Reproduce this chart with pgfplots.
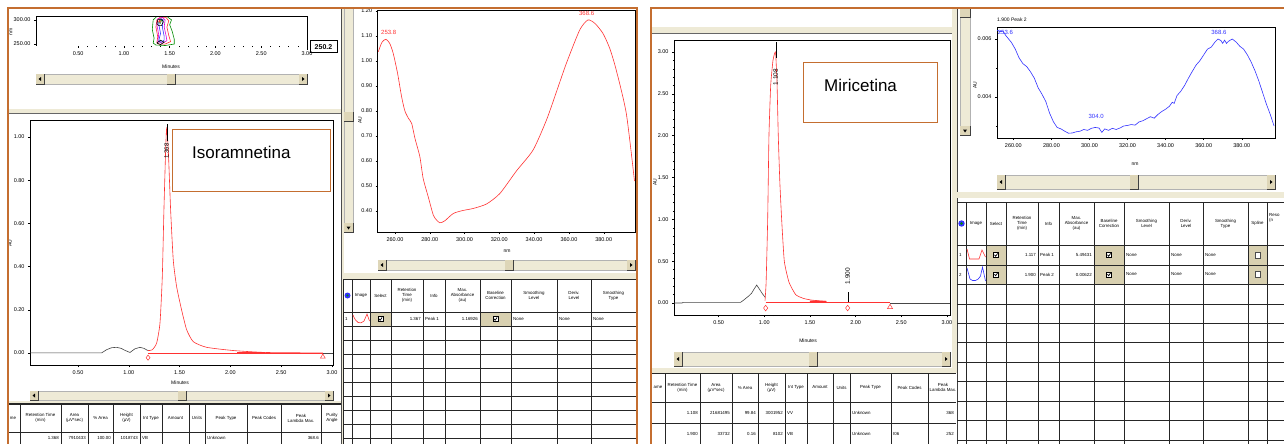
\documentclass[border=0pt]{standalone}
\usepackage{pgfplots}
\pgfplotsset{compat=1.18}
\usepackage{fontspec}
\setmainfont{Liberation Sans}
\definecolor{brd}{RGB}{196,110,48}
\definecolor{trk}{RGB}{238,234,214}
\definecolor{thm}{RGB}{222,214,184}
\definecolor{chk}{RGB}{216,208,176}
\definecolor{pk}{RGB}{255,50,50}
\definecolor{bl}{RGB}{50,50,255}
\definecolor{cgreen}{RGB}{0,140,0}
\definecolor{cmag}{RGB}{220,0,220}
\definecolor{ln}{RGB}{70,70,70}
\newcommand{\tfont}{\fontsize{5.5}{6}\selectfont}
\newcommand{\cfont}{\fontsize{4.4}{5}\selectfont}
\pgfplotsset{
  base/.style={scale only axis, axis line style={black,line width=0.6pt},
    tick label style={font=\tfont},
    /pgf/number format/assume math mode=true,
    /pgf/number format/fixed, /pgf/number format/fixed zerofill,
    /pgf/number format/precision=2,
    scaled x ticks=false, scaled y ticks=false,
    tick align=outside, major tick length=2pt, minor tick length=1.2pt,
    every tick/.style={black,line width=0.4pt},
    xtick pos=bottom, ytick pos=left,
    every axis plot/.append style={line width=0.6pt},
  },
}
% horizontal scrollbar: xl, xr, ytop, ybot, thumbx
\newcommand{\hscroll}[5]{%
  \fill[trk] (#1,-#3) rectangle (#2,-#4);
  \draw[black!30,line width=0.3pt] (#1,-#3) rectangle (#2,-#4);
  \fill[thm] (#1,-#3) rectangle (#1+8,-#4);
  \draw[black!75,line width=0.5pt] (#1+8,-#3) -- (#1+8,-#4) -- (#1,-#4);
  \fill (#1+2.5,-#3/2-#4/2) -- (#1+5,-#3/2-#4/2+2) -- (#1+5,-#3/2-#4/2-2) -- cycle;
  \fill[thm] (#2-8,-#3) rectangle (#2,-#4);
  \draw[black!75,line width=0.5pt] (#2,-#3) -- (#2,-#4) -- (#2-8,-#4);
  \fill (#2-2.5,-#3/2-#4/2) -- (#2-5,-#3/2-#4/2+2) -- (#2-5,-#3/2-#4/2-2) -- cycle;
  \fill[thm] (#5,-#3) rectangle (#5+8,-#4);
  \draw[black!75,line width=0.5pt] (#5+8,-#3) -- (#5+8,-#4) -- (#5,-#4);
}
% vertical scrollbar: xl, xr, ytop, ybot, thumby
\newcommand{\vscroll}[5]{%
  \fill[trk] (#1,-#3) rectangle (#2,-#4);
  \draw[black!30,line width=0.3pt] (#1,-#3) rectangle (#2,-#4);
  \fill[thm] (#1,-#4+9) rectangle (#2,-#4);
  \draw[black!75,line width=0.5pt] (#2,-#4+9) -- (#2,-#4) -- (#1,-#4);
  \fill (#1/2+#2/2,-#4+2.5) -- (#1/2+#2/2-2,-#4+5.5) -- (#1/2+#2/2+2,-#4+5.5) -- cycle;
  \fill[thm] (#1,-#5) rectangle (#2,-#5-9);
  \draw[black!75,line width=0.5pt] (#2,-#5) -- (#2,-#5-9) -- (#1,-#5-9);
}
\newcommand{\cbox}[2]{%
  \draw[black,line width=0.4pt,fill=white] (#1-2.5,-#2-2.5) rectangle (#1+2.5,-#2+2.5);
  \draw[line width=0.7pt] (#1-1.5,-#2+0.2) -- (#1-0.4,-#2-1.3) -- (#1+1.6,-#2+1.6);}
\newcommand{\ebox}[2]{%
  \draw[black!70,line width=0.4pt,fill=white] (#1-2.5,-#2-3) rectangle (#1+2.5,-#2+3);}
\tikzset{tbl/.style={draw=black!85,line width=0.8pt},
  hd/.style={font=\cfont,align=center,inner sep=0pt},
  cl/.style={font=\cfont,anchor=west,inner sep=0pt},
  cr/.style={font=\cfont,anchor=east,inner sep=0pt},
  lab/.style={font=\fontsize{5}{5}\selectfont,inner sep=0pt}}
\begin{document}
\begin{tikzpicture}[x=1pt,y=1pt]
\useasboundingbox (0,0) rectangle (1284,-444);
\clip (0,0) rectangle (1284,-444);
\fill[white] (0,0) rectangle (1284,-444);

% ================= LEFT HALF =================
\fill[trk] (8,-109) rectangle (341,-113);
\draw[black!60,line width=0.6pt] (8,-113) -- (341,-113);
\fill[trk] (8,-401) rectangle (341,-403);
\draw[black!85,line width=0.8pt] (8,-403) -- (341,-403);
\fill[trk] (341,-8) rectangle (344,-444);
\draw[black!70,line width=0.8pt] (341,-8) -- (341,-444);
\fill[trk] (344,-273) rectangle (637,-279);

% contour mini plot
\begin{axis}[base, at={(36pt,-46pt)}, anchor=south west, width=271pt, height=30pt,
  xmin=0.04, xmax=3.0, ymin=246, ymax=308,
  xtick={0.5,1,1.5,2,2.5,3}, minor x tick num=4,
  ytick={250,300}, axis line style={draw=none}]
\addplot[cgreen] coordinates {(1.32,252)(1.33,262)(1.31,280)(1.32,300)(1.36,307)(1.47,307)(1.52,300)(1.50,290)(1.53,275)(1.55,260)(1.55,250)(1.45,247)(1.35,248)(1.32,252)};
\addplot[pk] coordinates {(1.36,253)(1.37,265)(1.35,285)(1.36,300)(1.40,306)(1.46,305)(1.49,298)(1.47,285)(1.49,268)(1.51,255)(1.45,250)(1.38,250)(1.36,253)};
\addplot[cmag] coordinates {(1.37,255)(1.38,270)(1.36,290)(1.37,302)(1.42,305)(1.45,300)(1.44,285)(1.46,268)(1.47,257)(1.42,252)(1.37,255)};
\addplot[bl] coordinates {(1.38,256)(1.40,272)(1.38,292)(1.40,302)(1.43,300)(1.42,285)(1.44,266)(1.44,258)(1.41,254)(1.38,256)};
\addplot[black] coordinates {(1.36,292)(1.37,300)(1.41,302)(1.43,296)(1.41,288)(1.38,288)(1.36,292)};
\addplot[black] coordinates {(1.36,252)(1.40,258)(1.44,254)(1.40,249)(1.36,252)};
\addplot[cgreen] coordinates {(1.38,294)(1.39,300)(1.41,299)(1.40,293)(1.38,294)};
\addplot[pk,only marks,mark=*,mark size=0.8pt] coordinates {(1.39,297)};
\end{axis}
\draw[black,line width=0.7pt] (36,-46) -- (36,-16) -- (307,-16) -- (307,-50);
\node[lab,rotate=90] at (11,-32) {nm};
\node[lab] at (171,-67) {Minutes};
\draw[black,line width=1pt] (310,-41) rectangle (337,-53);
\node[font=\fontsize{7}{7}\selectfont\bfseries,inner sep=0pt] at (323.5,-47.2) {250.2};
\hscroll{36}{307}{74}{84}{167}

% left chromatogram
\begin{axis}[base, at={(30pt,-365pt)}, anchor=south west, width=303pt, height=245pt,
  xmin=0.028, xmax=3.01, ymin=-0.056, ymax=1.079,
  xtick={0.5,1,1.5,2,2.5,3}, minor x tick num=4,
  ytick={0,0.2,0.4,0.6,0.8,1.0}]
\addplot[ln] coordinates {(0.028,0)(0.733,0)(0.782,0.015)(0.83,0.024)(0.88,0.026)(0.925,0.021)(0.962,0.012)(1.012,0.002)(1.04,0.012)(1.061,0.019)(1.11,0.026)(1.15,0.021)(1.176,0.014)(1.19,0.011)};
\addplot[pk,smooth,tension=0.35] coordinates {(1.19,0.011)(1.23,0.014)(1.274,0.045)(1.307,0.137)(1.33,0.353)(1.346,0.662)(1.363,0.94)(1.373,1.04)(1.389,0.94)(1.412,0.662)(1.438,0.43)(1.471,0.307)(1.52,0.199)(1.57,0.107)(1.635,0.052)(1.766,0.026)(2.03,0.011)(2.356,0.002)(2.91,0)};
\addplot[pk] coordinates {(1.19,0)(2.91,0)};
\addplot[pk,line width=1.6pt] coordinates {(2.07,0.002)(2.34,0.002)};
\addplot[ln] coordinates {(2.91,0)(3.01,0)};
\addplot[pk,only marks,mark=diamond,mark size=2.6pt,mark options={line width=0.5pt}] coordinates {(1.19,-0.022)};
\addplot[pk,only marks,mark=triangle,mark size=2.8pt,mark options={line width=0.5pt}] coordinates {(2.91,-0.018)};
\addplot[black,line width=0.3pt] coordinates {(1.373,0.98)(1.373,1.06)};
\node[rotate=90,font=\fontsize{6}{6}\selectfont,inner sep=0pt] at (axis cs:1.373,0.935) {1.368};
\end{axis}
\node[lab,rotate=90] at (10,-243) {AU};
\node[lab] at (180,-383) {Minutes};
\hscroll{30}{333}{391}{400}{178}
\draw[brd,line width=1pt,fill=white] (172,-129) rectangle (330,-191);
\node[anchor=west,font=\fontsize{17}{17}\selectfont,inner sep=0pt] at (192,-152) {Isoramnetina};

% left spectrum
\vscroll{344}{353}{8}{232}{112}
\begin{axis}[base, at={(377.6pt,-232pt)}, anchor=south west, width=257.4pt, height=222pt,
  xmin=250, xmax=398, ymin=0.316, ymax=1.204,
  xtick={260,280,300,320,340,360,380},
  ytick={0.4,0.5,0.6,0.7,0.8,0.9,1.0,1.1,1.2}]
\addplot[pk,smooth,tension=0.4] coordinates {(250.4,1.037)(252.5,1.075)(254.8,1.087)(257,1.07)(259,1.03)(261.5,0.95)(263.8,0.857)(265.7,0.80)(267.8,0.77)(269.6,0.75)(271.5,0.69)(274.3,0.617)(276.2,0.53)(279.1,0.457)(282,0.384)(283.9,0.364)(285.8,0.353)(288.5,0.36)(293.5,0.39)(299,0.402)(304.9,0.41)(312.6,0.428)(320.3,0.47)(329.8,0.56)(339.4,0.644)(347.1,0.764)(352.5,0.87)(358.5,0.99)(366.2,1.124)(370.9,1.164)(375,1.15)(379.6,1.11)(383.5,1.05)(387.2,0.964)(393,0.79)(397.7,0.52)};
\node[pk,font=\fontsize{6}{6}\selectfont,inner sep=0pt] at (axis cs:256.4,1.113) {253.8};
\node[pk,font=\fontsize{6}{6}\selectfont,inner sep=0pt] at (axis cs:370.2,1.19) {368.6};
\end{axis}
\node[lab,rotate=90] at (360,-120) {AU};
\node[lab] at (507,-251) {nm};
\hscroll{378}{635}{260}{270}{505}

% left spectrum table
\foreach \y in {279,312,326,340,354,368,382,396,410,424,438} \draw[tbl] (343,-\y) -- (636,-\y);
\foreach \x in {343,352,370,391,423,445,480,511,557,591,636} \draw[tbl] (\x,-279) -- (\x,-444);
\fill[chk] (370.5,-312.5) rectangle (390.5,-325.5);
\fill[chk] (480.5,-312.5) rectangle (510.5,-325.5);
\cbox{380.5}{319}\cbox{495.5}{319}
\fill[bl] (347.5,-295.5) circle (3);\fill[cgreen] (347.5,-295.5) circle (1.2);
\node[hd] at (361,-295.5) {Image};
\node[hd] at (380.5,-295.5) {Select};
\node[hd] at (407,-295.5) {Retention\\Time\\(min)};
\node[hd] at (434,-295.5) {Info};
\node[hd] at (462.5,-295.5) {Max.\\Absorbance\\(au)};
\node[hd] at (495.5,-295.5) {Baseline\\Correction};
\node[hd] at (534,-295.5) {Smoothing\\Level};
\node[hd] at (574,-295.5) {Deriv.\\Level};
\node[hd] at (613.5,-295.5) {Smoothing\\Type};
\node[cl] at (345,-319) {1};
\draw[pk,line width=0.6pt] (353,-315) .. controls (356,-323) and (360,-325) .. (364,-321) -- (367,-314) -- (369.5,-321);
\node[cr] at (421,-319) {1.367};
\node[cl] at (425,-319) {Peak 1};
\node[cr] at (478,-319) {1.16926};
\node[cl] at (513,-319) {None};
\node[cl] at (559,-319) {None};
\node[cl] at (593,-319) {None};

% left bottom table
\foreach \y in {404,432} \draw[tbl] (8,-\y) -- (341,-\y);
\foreach \x in {20,61,88,113,140,162,189,205,247,281,321} \draw[tbl] (\x,-404) -- (\x,-444);
\node[hd] at (13,-418) {me};
\node[hd] at (40.5,-418) {Retention Time\\(min)};
\node[hd] at (74.5,-418) {Area\\(µV*sec)};
\node[hd] at (100.5,-418) {\% Area};
\node[hd] at (126.5,-418) {Height\\(µV)};
\node[hd] at (151,-418) {Int Type};
\node[hd] at (175.5,-418) {Amount};
\node[hd] at (197,-418) {Units};
\node[hd] at (226,-418) {Peak Type};
\node[hd] at (264,-418) {Peak Codes};
\node[hd] at (301,-418) {Peak\\Lambda Max.};
\begin{scope}\clip (321,-404) rectangle (340,-432);
\node[hd] at (332,-418) {Purity\\Angle};\end{scope}
\node[cr] at (59,-437.5) {1.368};
\node[cr] at (86,-437.5) {7910433};
\node[cr] at (111,-437.5) {100.00};
\node[cr] at (138,-437.5) {1018743};
\node[cl] at (142,-437.5) {VB};
\node[cl] at (207,-437.5) {Unknown};
\node[cr] at (319,-437.5) {368.6};

% ================= RIGHT HALF =================
\fill[trk] (651,-27) rectangle (953,-33);
\draw[black!60,line width=0.6pt] (651,-33) -- (953,-33);
\fill[trk] (952,-8) rectangle (957,-373);
\draw[black!75,line width=0.8pt] (957,-8) -- (957,-444);
\fill[trk] (651,-368) rectangle (957,-373);
\fill[trk] (957,-192) rectangle (1284,-198);

% right chromatogram
\begin{axis}[base, at={(674pt,-315pt)}, anchor=south west, width=276pt, height=275pt,
  xmin=0.011, xmax=3.034, ymin=-0.143, ymax=3.143,
  xtick={0.5,1,1.5,2,2.5,3}, minor x tick num=4,
  ytick={0,0.5,1,1.5,2,2.5,3}, minor y tick num=4]
\addplot[ln] coordinates {(0.011,0)(0.10,0)(0.11,0.008)(0.74,0.008)(0.78,0.04)(0.83,0.085)(0.86,0.116)(0.89,0.17)(0.917,0.215)(0.95,0.16)(0.98,0.11)(1.008,0.07)};
\addplot[pk,smooth,tension=0.3] coordinates {(1.008,0.03)(1.02,0.25)(1.037,1.0)(1.051,2.0)(1.07,2.6)(1.095,2.9)(1.115,2.99)(1.125,2.98)(1.14,2.6)(1.153,2.0)(1.17,1.45)(1.19,1.0)(1.219,0.5)(1.27,0.25)(1.344,0.1)(1.43,0.055)(1.52,0.035)(1.68,0.02)};
\addplot[pk] coordinates {(1.015,0.012)(2.377,0.012)};
\addplot[pk,line width=1.4pt] coordinates {(1.50,0.02)(1.68,0.018)};
\addplot[ln] coordinates {(2.377,0)(3.034,0)};
\addplot[pk,only marks,mark=diamond,mark size=2.8pt,mark options={line width=0.5pt}] coordinates {(1.015,-0.06)(1.913,-0.06)};
\addplot[pk,only marks,mark=triangle,mark size=3pt,mark options={line width=0.5pt}] coordinates {(2.377,-0.05)};
\addplot[black,line width=0.3pt] coordinates {(1.125,2.93)(1.125,3.12)};
\addplot[black,line width=0.3pt] coordinates {(1.913,0.01)(1.913,0.13)};
\node[rotate=90,font=\fontsize{6.5}{6.5}\selectfont,inner sep=0pt] at (axis cs:1.125,2.70) {1.108};
\node[rotate=90,font=\fontsize{6.5}{6.5}\selectfont,inner sep=0pt] at (axis cs:1.913,0.32) {1.900};
\end{axis}
\node[lab,rotate=90] at (655,-182) {AU};
\node[lab] at (808,-341) {Minutes};
\hscroll{674}{950}{352}{366}{809}
\draw[brd,line width=1pt,fill=white] (803,-63) rectangle (937,-122);
\node[anchor=west,font=\fontsize{17}{17}\selectfont,inner sep=0pt] at (824,-85) {Miricetina};

% right spectrum
\vscroll{960}{970}{8}{135}{8}
\begin{axis}[base, at={(997pt,-138pt)}, anchor=south west, width=278pt, height=111pt,
  xmin=251.4, xmax=397.5, ymin=0.002586, ymax=0.006414,
  xtick={260,280,300,320,340,360,380},
  ytick={0.004,0.006}, minor ytick={0.003,0.005},
  yticklabel style={/pgf/number format/precision=3}]
\addplot[bl] coordinates {(251.5,0.00630)(253,0.00625)(254.5,0.00628)(256,0.00612)(257.5,0.00600)(259,0.00588)(261,0.00565)(263,0.00535)(265,0.00515)(267,0.00505)(269,0.00487)(271,0.00465)(273,0.00432)(275,0.00410)(277,0.00385)(279,0.00345)(281,0.00315)(283,0.00295)(285,0.00290)(287,0.00282)(289,0.00275)(291,0.00276)(293,0.00280)(295,0.00282)(297,0.00288)(299,0.00285)(301,0.00292)(303,0.00295)(305,0.00293)(306.5,0.00278)(308,0.00290)(310,0.00285)(312,0.00292)(314,0.00288)(316,0.00293)(318,0.00300)(320,0.00302)(322,0.00305)(324,0.00303)(326,0.00314)(328,0.00318)(330,0.00325)(332,0.00332)(334,0.00327)(336,0.00340)(338,0.00350)(340,0.00358)(342,0.00368)(343.5,0.00382)(344.5,0.00378)(346,0.00405)(348,0.00420)(350,0.00440)(352,0.00465)(354,0.00488)(356,0.00510)(358,0.00525)(360,0.00545)(362,0.00565)(364,0.00572)(366,0.00590)(367.5,0.00600)(369,0.00595)(370,0.00585)(371,0.00596)(372,0.00585)(373,0.00592)(375,0.00600)(377,0.00590)(379,0.00575)(381,0.00565)(383,0.00545)(385,0.00520)(387,0.00490)(389,0.00455)(391,0.00415)(393,0.00375)(395,0.00340)(397,0.00300)};
\node[bl,font=\fontsize{6}{6}\selectfont,inner sep=0pt] at (axis cs:255.8,0.00624) {253.6};
\node[bl,font=\fontsize{6}{6}\selectfont,inner sep=0pt] at (axis cs:303.5,0.00333) {304.0};
\node[bl,font=\fontsize{6}{6}\selectfont,inner sep=0pt] at (axis cs:368,0.00624) {368.6};
\end{axis}
\node[lab,anchor=west] at (997,-20) {1.900 Peak 2};
\node[lab,rotate=90] at (975,-85) {AU};
\node[lab] at (1135,-164) {nm};
\hscroll{997}{1275}{175}{189}{1130}

% right spectrum table
\foreach \y in {202,245,265,284,304,323,342,362,381,401,420,440} \draw[tbl] (957,-\y) -- (1284,-\y);
\foreach \x in {966,986,1006,1038,1059,1094,1124,1169,1203,1248,1267} \draw[tbl] (\x,-202) -- (\x,-444);
\fill[chk] (986.5,-245.5) rectangle (1005.5,-283.5);
\fill[chk] (1094.5,-245.5) rectangle (1123.5,-283.5);
\fill[chk] (1248.5,-245.5) rectangle (1266.5,-283.5);
\draw[tbl] (957,-265) -- (1284,-265);
\cbox{996}{255}\cbox{996}{274.5}\cbox{1109}{255}\cbox{1109}{274.5}
\ebox{1257.5}{255}\ebox{1257.5}{274.5}
\fill[bl] (961.5,-223.5) circle (3.2);\fill[cgreen] (961.5,-223.5) circle (1.3);
\node[hd] at (976,-223.5) {Image};
\node[hd] at (996,-223.5) {Select};
\node[hd] at (1022,-223.5) {Retention\\Time\\(min)};
\node[hd] at (1048.5,-223.5) {Info};
\node[hd] at (1076.5,-223.5) {Max.\\Absorbance\\(au)};
\node[hd] at (1109,-223.5) {Baseline\\Correction};
\node[hd] at (1146.5,-223.5) {Smoothing\\Level};
\node[hd] at (1186,-223.5) {Deriv.\\Level};
\node[hd] at (1225.5,-223.5) {Smoothing\\Type};
\node[hd] at (1257.5,-223.5) {Spline};
\node[font=\cfont,anchor=west,inner sep=0pt,align=left] at (1269,-218) {Reso\\(n};
\node[cl] at (959,-255) {1};
\node[cl] at (959,-274.5) {2};
\draw[pk,line width=0.6pt] (967,-249) -- (969.5,-259) -- (979,-259) -- (982,-250) -- (985.5,-257);
\draw[bl,line width=0.6pt] (967,-268) -- (970,-279) .. controls (973,-282) and (978,-281) .. (980.5,-276) -- (982.5,-267) -- (985.5,-281);
\node[cr] at (1036,-255) {1.117};
\node[cl] at (1040,-255) {Peak 1};
\node[cr] at (1092,-255) {5.49431};
\node[cl] at (1126,-255) {None};
\node[cl] at (1171,-255) {None};
\node[cl] at (1205,-255) {None};
\node[cr] at (1036,-274.5) {1.900};
\node[cl] at (1040,-274.5) {Peak 2};
\node[cr] at (1092,-274.5) {0.00622};
\node[cl] at (1126,-274.5) {None};
\node[cl] at (1171,-274.5) {None};
\node[cl] at (1205,-274.5) {None};

% right bottom table
\foreach \y in {373,402,423} \draw[tbl] (651,-\y) -- (956,-\y);
\foreach \x in {665,700,732,758,785,807,833,850,891,928} \draw[tbl] (\x,-373) -- (\x,-444);
\node[hd] at (658,-387.5) {ame};
\node[hd] at (682.5,-387.5) {Retention Time\\(min)};
\node[hd] at (716,-387.5) {Area\\(µV*sec)};
\node[hd] at (745,-387.5) {\% Area};
\node[hd] at (771.5,-387.5) {Height\\(µV)};
\node[hd] at (796,-387.5) {Int Type};
\node[hd] at (820,-387.5) {Amount};
\node[hd] at (841.5,-387.5) {Units};
\node[hd] at (870.5,-387.5) {Peak Type};
\node[hd] at (909.5,-387.5) {Peak Codes};
\begin{scope}\clip (928,-373) rectangle (956,-402);
\node[hd] at (943,-387.5) {Peak\\Lambda Max.};\end{scope}
\node[cr] at (698,-412.5) {1.108};
\node[cr] at (730,-412.5) {21681495};
\node[cr] at (756,-412.5) {99.84};
\node[cr] at (783,-412.5) {3001952};
\node[cl] at (787,-412.5) {VV};
\node[cl] at (852,-412.5) {Unknown};
\node[cr] at (954,-412.5) {368};
\node[cr] at (698,-433.5) {1.900};
\node[cr] at (730,-433.5) {33732};
\node[cr] at (756,-433.5) {0.16};
\node[cr] at (783,-433.5) {8102};
\node[cl] at (787,-433.5) {VB};
\node[cl] at (852,-433.5) {Unknown};
\node[cl] at (893,-433.5) {I06};
\node[cr] at (954,-433.5) {252};

% brown frames
\draw[brd,line width=1.5pt] (8,-446) -- (8,-8) -- (637,-8) -- (637,-446);
\draw[brd,line width=1.5pt] (651,-446) -- (651,-8) -- (1286,-8);
\end{tikzpicture}
\end{document}
